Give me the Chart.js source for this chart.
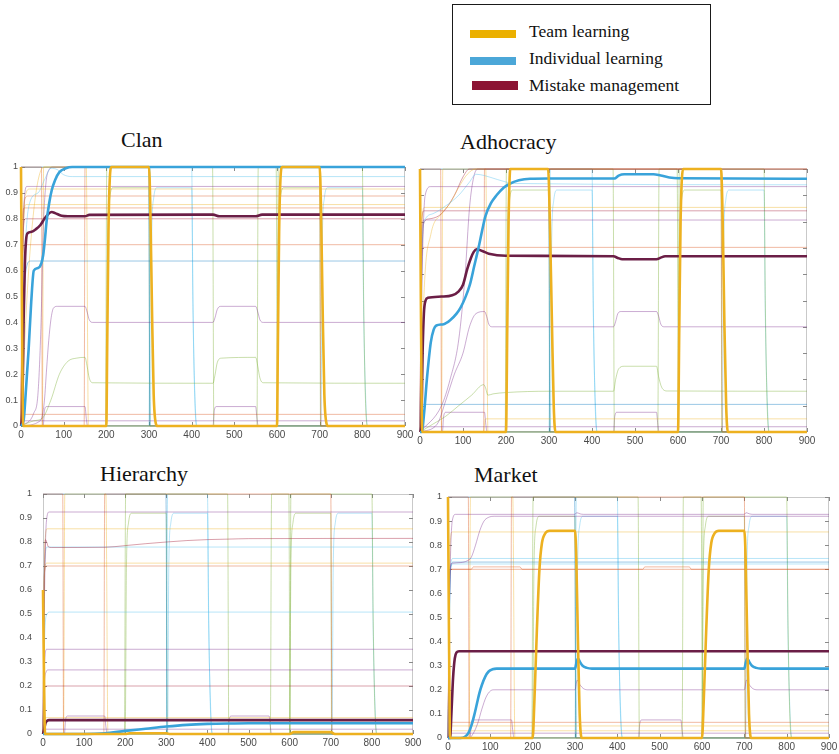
<!DOCTYPE html>
<html>
<head>
<meta charset="utf-8">
<script src="https://cdn.jsdelivr.net/npm/chart.js@4.4.1/dist/chart.umd.min.js"></script>
<style>
body { margin: 0; background: #fff; width: 839px; height: 754px; position: relative; overflow: hidden; font-family: "Liberation Serif", "Times New Roman", serif; }
canvas { position: absolute; }
.title { position: absolute; font-size: 22px; line-height: 22px; color: #111; white-space: nowrap; }
#legend { position: absolute; left: 452px; top: 4px; width: 257px; height: 99px; border: 1.5px solid #1a1a1a; }
.sw { position: absolute; width: 46px; height: 8px; }
.lt { position: absolute; left: 529px; font-size: 17.5px; line-height: 17.5px; color: #111; white-space: nowrap; }
</style>
</head>
<body>
<div id="legend"></div>
<div class="sw" style="left:470px;top:30px;background:#EBB000"></div>
<div class="sw" style="left:470px;top:57px;background:#4BA7D8"></div>
<div class="sw" style="left:472px;top:81px;height:9px;background:#8C1434"></div>
<div class="lt" style="top:23px">Team learning</div>
<div class="lt" style="top:50px">Individual learning</div>
<div class="lt" style="top:77px">Mistake management</div>

<div class="title" style="left:121px;top:129px">Clan</div>
<div class="title" style="left:460px;top:131px">Adhocracy</div>
<div class="title" style="left:100px;top:463px">Hierarchy</div>
<div class="title" style="left:474px;top:464px">Market</div>

<script>
const xTicks = [0, 100, 200, 300, 400, 500, 600, 700, 800, 900];
const yTicks = [0, 0.1, 0.2, 0.3, 0.4, 0.5, 0.6, 0.7, 0.8, 0.9, 1];

// switching inputs, same in every culture
const pulseOrange = [[0,1],[48,1],[50,0],[148,0],[150,1],[700,1],[703,0],[900,0]];
const pulseYellow = [[0,0],[50,0],[53,1],[153,1],[158,0],[900,0]];
const pulseGreen = [[0,0],[198,0],[201,1],[449,1],[452,0],[553,0],[556,1],[598,1],[601,0],[900,0]];
const pulseBlue = [[0,1],[299,1],[302,0],[900,0]];
const pulseCyan = [[0,0],[300,0],[303,1],[400,1],[403,0.5],[407,0.12],[412,0],[900,0]];
const pulseOlive = [[0,0],[600,0],[603,1],[800,1],[803,0.5],[807,0.12],[812,0],[900,0]];
const plateauGreen = [[0,0],[200,0],[203,0.7],[208,0.88],[216,0.92],[300,0.92],[302,0],[600,0],[603,0.7],[608,0.88],[616,0.92],[700,0.92],[702,0],[900,0]];
const plateauCyan = [[0,0],[303,0],[306,0.7],[311,0.88],[319,0.92],[400,0.92],[403,0.45],[408,0.1],[412,0],[703,0],[706,0.7],[711,0.88],[719,0.92],[800,0.92],[803,0.45],[808,0.1],[812,0],[900,0]];
const stepPurple = [[0,0],[52,0],[55,0.06],[60,0.075],[150,0.075],[153,0.03],[156,0],[450,0],[453,0.06],[458,0.075],[550,0.075],[553,0.03],[556,0],[900,0]];

// Clan
const clanTeam = [[0,1],[2,0.5],[5,0],[200,0],[202,0.3],[205,0.75],[208,0.95],[212,1],[300,1],[303,0.85],[307,0.45],[311,0.12],[316,0.01],[320,0],[600,0],[602,0.3],[605,0.75],[608,0.95],[612,1],[700,1],[703,0.85],[707,0.45],[711,0.12],[716,0.01],[720,0],[900,0]];
const clanIndiv = [[0,0],[6,0.02],[12,0.15],[18,0.3],[24,0.48],[30,0.6],[40,0.61],[48,0.63],[52,0.66],[56,0.72],[60,0.79],[66,0.86],[72,0.91],[80,0.95],[90,0.98],[105,0.995],[120,1],[900,1]];
const clanMistake = [[0,0],[3,0.05],[6,0.4],[9,0.62],[12,0.72],[16,0.745],[25,0.75],[35,0.76],[45,0.775],[55,0.8],[65,0.82],[72,0.826],[80,0.822],[95,0.812],[110,0.81],[150,0.81],[160,0.815],[450,0.816],[465,0.81],[550,0.81],[565,0.816],[900,0.816]];
const clanH925 = [[0,0],[3,0.5],[8,0.88],[14,0.925],[900,0.925]];
const clanH963 = [[0,0],[8,0.6],[20,0.86],[40,0.9],[55,0.95],[70,0.995],[85,0.99],[100,0.97],[120,0.963],[900,0.963]];
const clanH915 = [[0,0],[5,0.7],[12,0.9],[20,0.915],[900,0.915]];
const clanH888 = [[0,0],[4,0.7],[10,0.88],[16,0.888],[900,0.888]];
const clanH855 = [[0,0],[6,0.8],[12,0.855],[900,0.855]];
const clanH842 = [[0,0],[3,0.8],[8,0.842],[900,0.842]];
const clanH800 = [[0,0],[4,0.7],[10,0.8],[900,0.8]];
const clanH700 = [[0,0],[3,0.65],[8,0.7],[900,0.7]];
const clanH637 = [[0,0],[6,0.45],[14,0.62],[22,0.637],[900,0.637]];
const clanStep46 = [[0,0],[45,0.02],[50,0.04],[55,0.1],[60,0.22],[65,0.33],[70,0.41],[76,0.455],[85,0.462],[150,0.462],[155,0.44],[160,0.41],[168,0.4],[450,0.4],[455,0.42],[460,0.45],[468,0.462],[550,0.462],[555,0.44],[560,0.41],[568,0.4],[900,0.4]];
const clanStep26 = [[0,0],[30,0.02],[50,0.03],[70,0.1],[90,0.2],[110,0.25],[130,0.262],[150,0.265],[155,0.23],[160,0.185],[168,0.167],[450,0.165],[455,0.2],[460,0.245],[470,0.262],[550,0.265],[555,0.23],[560,0.185],[568,0.167],[900,0.165]];
const clanH045 = [[0,0],[3,0.045],[900,0.045]];
const clanH020 = [[0,0],[3,0.02],[900,0.02]];
const clanRiseYellow = [[0,0],[8,0.3],[16,0.55],[25,0.75],[35,0.9],[45,0.98],[55,1],[900,1]];
const clanRisePurple = [[0,0],[30,0.05],[40,0.13],[47,0.4],[52,0.75],[58,0.93],[66,0.99],[75,1],[900,1]];

// Adhocracy
const adhoTeam = [[0,1],[2,0.5],[5,0],[200,0],[203,0.4],[206,0.8],[210,1],[298,1],[302,0.8],[307,0.4],[311,0.1],[315,0],[600,0],[603,0.4],[606,0.8],[612,1],[700,1],[704,0.8],[708,0.4],[712,0.1],[716,0],[900,0]];
const adhoIndiv = [[0,0],[4,0],[10,0.08],[16,0.2],[25,0.34],[32,0.39],[38,0.405],[55,0.41],[70,0.425],[85,0.45],[95,0.475],[105,0.51],[116,0.56],[126,0.63],[136,0.7],[145,0.77],[152,0.82],[165,0.87],[178,0.9],[195,0.93],[210,0.945],[230,0.957],[256,0.963],[300,0.964],[452,0.964],[462,0.975],[475,0.98],[543,0.98],[560,0.975],[580,0.968],[600,0.965],[900,0.963]];
const adhoMistake = [[0,0],[3,0.02],[6,0.3],[9,0.45],[13,0.5],[18,0.51],[50,0.515],[75,0.52],[90,0.535],[100,0.56],[110,0.62],[118,0.66],[125,0.685],[132,0.695],[145,0.688],[160,0.678],[200,0.67],[450,0.668],[460,0.662],[470,0.657],[550,0.657],[560,0.663],[570,0.668],[900,0.668]];
const adhoH933 = [[0,0],[5,0.6],[12,0.9],[25,0.933],[900,0.933]];
const adhoCyanCurve = [[0,0],[5,0.7],[10,0.8],[30,0.83],[60,0.86],[90,0.9],[115,0.95],[130,0.98],[150,0.975],[180,0.96],[220,0.945],[900,0.94]];
const adhoYellowCurve = [[0,0],[10,0.55],[25,0.75],[50,0.83],[70,0.87],[90,0.93],[110,0.98],[130,1],[900,1]];
const adhoMaroonCurve = [[0,0],[4,0.6],[8,0.79],[20,0.81],[50,0.83],[80,0.9],[100,0.97],[115,1],[900,1]];
const adhoPurpleCurve = [[0,0],[50,0.1],[70,0.2],[90,0.35],[105,0.6],[115,0.85],[125,0.97],[135,1],[900,1]];
const adhoH854 = [[0,0],[5,0.8],[10,0.854],[900,0.854]];
const adhoH841 = [[0,0],[4,0.8],[9,0.841],[900,0.841]];
const adhoH806 = [[0,0],[4,0.75],[9,0.806],[900,0.806]];
const adhoH702 = [[0,0],[3,0.65],[8,0.702],[900,0.702]];
const adhoStep46 = [[0,0],[40,0.03],[60,0.12],[80,0.22],[100,0.3],[115,0.4],[130,0.45],[150,0.458],[155,0.44],[160,0.41],[168,0.4],[450,0.4],[455,0.42],[460,0.45],[468,0.458],[550,0.458],[555,0.44],[560,0.41],[568,0.4],[900,0.4]];
const adhoStep25 = [[0,0],[30,0.03],[60,0.06],[90,0.1],[120,0.14],[148,0.18],[152,0.17],[158,0.14],[170,0.145],[200,0.15],[300,0.155],[450,0.155],[455,0.2],[462,0.24],[475,0.25],[550,0.25],[555,0.21],[562,0.17],[575,0.156],[900,0.155]];
const adhoH105 = [[0,0],[5,0.1],[10,0.105],[900,0.105]];
const adhoH050 = [[0,0],[148,0],[152,0.05],[900,0.05]];
const adhoH020 = [[0,0],[5,0.02],[900,0.02]];

// Hierarchy
const hierTeam = [[0,0.6],[2,0.3],[5,0],[200,0],[210,0.003],[300,0.003],[310,0],[600,0],[610,0.008],[700,0.008],[710,0],[900,0]];
const hierIndiv = [[0,0],[100,0],[150,0.003],[200,0.013],[250,0.022],[300,0.031],[350,0.038],[400,0.042],[450,0.044],[500,0.045],[900,0.045]];
const hierMistake = [[0,0],[3,0.02],[6,0.045],[10,0.055],[15,0.058],[900,0.058]];
const hierH925 = [[0,0],[3,0.5],[8,0.88],[15,0.925],[900,0.925]];
const hierH855 = [[0,0],[5,0.8],[10,0.855],[900,0.855]];
const hierMaroon = [[0,0],[3,0.6],[6,0.81],[9,0.8],[13,0.78],[20,0.777],[150,0.778],[200,0.785],[250,0.793],[300,0.8],[350,0.806],[400,0.81],[450,0.812],[500,0.814],[900,0.815]];
const hierH779 = [[0,0],[4,0.7],[10,0.779],[900,0.779]];
const hierH712 = [[0,0],[4,0.68],[9,0.712],[900,0.712]];
const hierH700 = [[0,0],[3,0.66],[8,0.7],[900,0.7]];
const hierH508 = [[0,0],[5,0.45],[10,0.5],[15,0.508],[900,0.508]];
const hierH353 = [[0,0],[4,0.3],[9,0.353],[900,0.353]];
const hierH267 = [[0,0],[3,0.2],[8,0.26],[12,0.267],[900,0.267]];
const hierH200 = [[0,0],[3,0.18],[7,0.2],[900,0.2]];
const hierH068 = [[0,0],[4,0.068],[900,0.068]];
const hierH020 = [[0,0],[4,0.02],[900,0.02]];

// Market
const mktTeam = [[0,1],[2,0.5],[5,0],[200,0],[204,0.15],[210,0.45],[216,0.7],[222,0.81],[230,0.85],[240,0.86],[300,0.86],[303,0.75],[307,0.4],[311,0.1],[316,0],[600,0],[604,0.15],[610,0.45],[616,0.7],[622,0.81],[630,0.85],[640,0.86],[700,0.86],[703,0.75],[707,0.4],[711,0.1],[716,0],[900,0]];
const mktIndiv = [[0,0],[30,0],[40,0.005],[48,0.02],[55,0.05],[62,0.095],[68,0.14],[74,0.185],[80,0.22],[88,0.255],[96,0.276],[105,0.285],[115,0.288],[300,0.288],[303,0.31],[307,0.33],[312,0.315],[318,0.3],[328,0.291],[340,0.288],[700,0.288],[703,0.31],[707,0.33],[712,0.315],[718,0.3],[728,0.291],[740,0.288],[900,0.288]];
const mktMistake = [[0,0],[5,0],[8,0.1],[12,0.25],[16,0.33],[20,0.355],[26,0.36],[900,0.36]];
const mktH928 = [[0,0],[4,0.6],[10,0.9],[18,0.928],[300,0.928],[304,0.935],[312,0.93],[320,0.928],[700,0.928],[704,0.935],[712,0.93],[720,0.928],[900,0.928]];
const mktPurpleRise = [[0,0],[5,0.7],[10,0.725],[30,0.728],[45,0.735],[55,0.75],[65,0.8],[75,0.86],[85,0.9],[95,0.915],[110,0.92],[900,0.92]];
const mktH855 = [[0,0],[5,0.8],[10,0.855],[900,0.855]];
const mktH745 = [[0,0],[5,0.7],[12,0.745],[900,0.745]];
const mktH730 = [[0,0],[6,0.7],[12,0.73],[900,0.73]];
const mktH722 = [[0,0],[6,0.7],[12,0.722],[900,0.722]];
const mktTan71 = [[0,0],[5,0.7],[55,0.7],[60,0.71],[170,0.71],[175,0.7],[460,0.7],[465,0.71],[570,0.71],[575,0.7],[900,0.7]];
const mktH700 = [[0,0],[3,0.66],[8,0.7],[900,0.7]];
const mktPurple20 = [[0,0],[50,0],[60,0.02],[70,0.06],[80,0.12],[90,0.17],[100,0.195],[110,0.2],[300,0.2],[305,0.24],[312,0.22],[320,0.205],[330,0.2],[700,0.2],[705,0.24],[712,0.22],[720,0.205],[730,0.2],[900,0.2]];
const mktH065 = [[0,0],[4,0.065],[900,0.065]];
const mktH050 = [[0,0],[4,0.05],[900,0.05]];
const mktH030 = [[0,0],[4,0.03],[900,0.03]];
const mktH020 = [[0,0],[4,0.02],[900,0.02]];

const thickColor = { team: '#EDB120', indiv: '#39A3DA', mistake: '#6B1E46' };
const thinColor = {
    blue: 'rgba(0,114,189,0.5)',
    orange: 'rgba(217,83,25,0.5)',
    yellow: 'rgba(237,177,32,0.5)',
    purple: 'rgba(126,47,142,0.5)',
    green: 'rgba(119,172,48,0.5)',
    cyan: 'rgba(77,190,238,0.5)',
    maroon: 'rgba(162,20,47,0.5)'
};

const sharedLines = [
    [pulseOrange, 'orange'], [pulseYellow, 'yellow'], [pulseGreen, 'green'], [pulseBlue, 'blue'],
    [pulseCyan, 'cyan'], [pulseOlive, 'green'], [plateauGreen, 'green'], [plateauCyan, 'cyan'], [stepPurple, 'purple']
];

const panels = [
    { box: [21, 167, 405, 426], yw: 21, xh: 18, yPad: 3, yLabels: true,
      team: clanTeam, indiv: clanIndiv, mistake: clanMistake,
      lines: [[clanH925,'purple'],[clanH963,'cyan'],[clanH915,'yellow'],[clanH888,'orange'],[clanH855,'yellow'],[clanH842,'orange'],
              [clanH800,'maroon'],[clanH700,'orange'],[clanH637,'blue'],[clanStep46,'purple'],[clanStep26,'green'],
              [clanH045,'orange'],[clanH020,'purple'],[clanRiseYellow,'yellow'],[clanRisePurple,'purple']] },
    { box: [420, 169, 807, 432], yw: 10, xh: 18, yPad: 3, yLabels: false,
      team: adhoTeam, indiv: adhoIndiv, mistake: adhoMistake,
      lines: [[adhoH933,'purple'],[adhoCyanCurve,'cyan'],[adhoYellowCurve,'yellow'],[adhoMaroonCurve,'maroon'],[adhoPurpleCurve,'purple'],
              [adhoH854,'yellow'],[adhoH841,'maroon'],[adhoH806,'purple'],[adhoH702,'orange'],[adhoStep46,'purple'],
              [adhoStep25,'green'],[adhoH105,'blue'],[adhoH050,'yellow'],[adhoH020,'purple']] },
    { box: [43, 494, 413, 734], yw: 43, xh: 16, yPad: 11, yLabels: true,
      team: hierTeam, indiv: hierIndiv, mistake: hierMistake,
      lines: [[hierH925,'purple'],[hierH855,'yellow'],[hierMaroon,'maroon'],[hierH779,'cyan'],[hierH712,'yellow'],[hierH700,'orange'],
              [hierH508,'cyan'],[hierH353,'purple'],[hierH267,'purple'],[hierH200,'maroon'],[hierH068,'yellow'],[hierH020,'purple']] },
    { box: [448, 497, 829, 738], yw: 22, xh: 14, yPad: 6, yLabels: true,
      team: mktTeam, indiv: mktIndiv, mistake: mktMistake,
      lines: [[mktH928,'purple'],[mktPurpleRise,'purple'],[mktH855,'yellow'],[mktH745,'cyan'],[mktH730,'blue'],[mktH722,'cyan'],
              [mktTan71,'orange'],[mktH700,'orange'],[mktPurple20,'purple'],[mktH065,'orange'],[mktH050,'yellow'],
              [mktH030,'yellow'],[mktH020,'purple']] }
];

// light frame with inward tick marks, drawn under the lines
const framePlugin = {
    id: 'frame',
    beforeDatasetsDraw(chart) {
        const { ctx, chartArea: a, scales: { x, y } } = chart;
        ctx.save();
        ctx.strokeStyle = '#c9c9c9';
        ctx.lineWidth = 1;
        ctx.strokeRect(a.left + 0.5, a.top + 0.5, a.right - a.left - 1, a.bottom - a.top - 1);
        ctx.strokeStyle = '#8a8a8a';
        ctx.beginPath();
        xTicks.forEach(v => {
            const p = Math.round(x.getPixelForValue(v)) + 0.5;
            ctx.moveTo(p, a.bottom); ctx.lineTo(p, a.bottom - 4);
            ctx.moveTo(p, a.top); ctx.lineTo(p, a.top + 4);
        });
        yTicks.forEach(v => {
            const p = Math.round(y.getPixelForValue(v)) + 0.5;
            ctx.moveTo(a.left, p); ctx.lineTo(a.left + 4, p);
            ctx.moveTo(a.right, p); ctx.lineTo(a.right - 4, p);
        });
        ctx.stroke();
        ctx.restore();
    }
};

function lineSet(pairs, color, width) {
    return {
        data: pairs.map(([x, y]) => ({ x, y })),
        borderColor: color,
        borderWidth: width,
        pointRadius: 0,
        fill: false,
        clip: 2,
        cubicInterpolationMode: 'monotone'
    };
}

const tickFont = { family: '"Liberation Sans", Arial, sans-serif', size: 9 };
const xTickFont = { family: '"Liberation Sans", Arial, sans-serif', size: 10 };

panels.forEach(p => {
    const [L, T, R, B] = p.box;
    const canvas = document.createElement('canvas');
    const left = L - p.yw, top = T - 8;
    canvas.width = R - L + p.yw + 10;
    canvas.height = B - T + 8 + p.xh;
    canvas.style.left = left + 'px';
    canvas.style.top = top + 'px';
    document.body.appendChild(canvas);

    const datasets = [
        lineSet(p.team, thickColor.team, 2.6),
        lineSet(p.indiv, thickColor.indiv, 2.6),
        lineSet(p.mistake, thickColor.mistake, 2.6)
    ];
    p.lines.concat(sharedLines).forEach(([d, c]) => datasets.push(lineSet(d, thinColor[c], 0.8)));

    new Chart(canvas.getContext('2d'), {
        type: 'line',
        data: { datasets: datasets },
        options: {
            responsive: false,
            animation: false,
            devicePixelRatio: 1,
            events: [],
            layout: { padding: { top: 8, right: 10, left: 0, bottom: 0 } },
            plugins: { legend: { display: false }, tooltip: { enabled: false } },
            scales: {
                x: {
                    type: 'linear', min: 0, max: 900,
                    grid: { display: false, drawTicks: false },
                    border: { display: false },
                    ticks: { font: xTickFont, color: '#4a4a4a', padding: 3, maxRotation: 0, autoSkip: false, callback: v => String(v) },
                    afterBuildTicks: s => { s.ticks = xTicks.map(v => ({ value: v })); },
                    afterFit: s => { s.height = p.xh; s.paddingLeft = 0; s.paddingRight = 0; }
                },
                y: {
                    type: 'linear', min: 0, max: 1,
                    grid: { display: false, drawTicks: false },
                    border: { display: false },
                    ticks: { display: p.yLabels, font: tickFont, color: '#4a4a4a', padding: p.yPad, autoSkip: false, callback: v => String(v) },
                    afterBuildTicks: s => { s.ticks = yTicks.map(v => ({ value: v })); },
                    afterFit: s => { s.width = p.yw; s.paddingTop = 0; s.paddingBottom = 0; }
                }
            }
        },
        plugins: [framePlugin]
    });
});
</script>
</body>
</html>
